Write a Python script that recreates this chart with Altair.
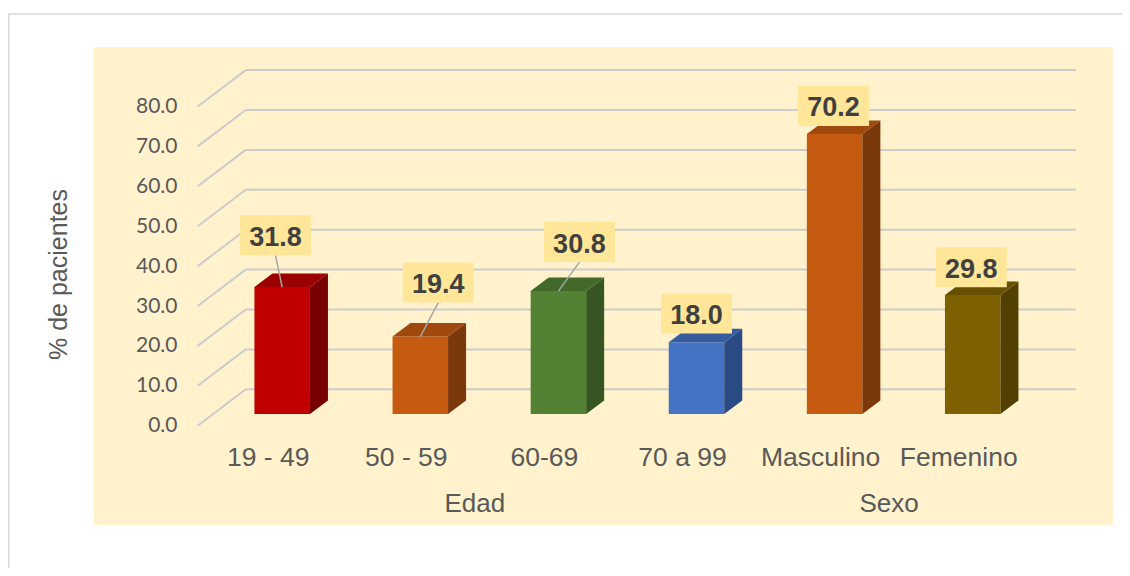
import json
import altair as alt
import pandas as pd

# ---------------- data ----------------
categories = ["19 - 49", "50 - 59", "60-69", "70 a 99", "Masculino", "Femenino"]
values = [31.8, 19.4, 30.8, 18.0, 70.2, 29.8]
groups = ["Edad", "Edad", "Edad", "Edad", "Sexo", "Sexo"]
y_ticks = [0, 10, 20, 30, 40, 50, 60, 70, 80]

# ---------------- styles ----------------
front_colors = ["#C00000", "#C55A11", "#548235", "#4472C4", "#C55A11", "#7F6000"]
top_colors = ["#9A0000", "#A0490E", "#43692A", "#365C9E", "#A0490E", "#665000"]
side_colors = ["#780000", "#7B380B", "#375623", "#2B4B84", "#7B380B", "#524000"]

# ---------------- layout (pixels) ----------------
W, H = 1019, 478
STEP = 138.1          # px between bar centres
X0 = 188.2            # plot x of first bar centre
Y0 = 367.0            # plot y of value 0 at the bar front plane
PX = 3.99             # px per percentage point
BAR_W = 55.5
DEPTH_X, DEPTH_Y = 18.0, 13.5
BACK_UP = 24.7        # back wall above bar front plane (px)
FLOOR_DOWN = 11.7     # floor front below bar front plane (px)
BACK_LEFT_X, FRONT_LEFT_X, GRID_RIGHT_X = 151.7, 103.7, 981.7
LABEL_SHIFT = -14.5
# data-label box placement relative to bar front top centre (px)
label_dx = [-6.7, 18.0, 21.0, 0.0, -1.0, -1.4]
label_dy = [51.8, 54.0, 49.0, 28.7, 28.0, 27.8]
leader = [True, True, True, False, False, False]
BOX_W, BOX_H = 71, 40
PAD = {"left": 86, "top": 39, "right": 9, "bottom": 43}

ux = lambda p: p / STEP
uy = lambda p: p / PX
xpos = lambda px: (px - X0) / STEP

xscale = alt.Scale(domain=[-X0 / STEP, (W - X0) / STEP], nice=False, zero=False)
yscale = alt.Scale(domain=[(Y0 - H) / PX, Y0 / PX], nice=False, zero=False)

hw = ux(BAR_W / 2)
dX, dY = ux(DEPTH_X), uy(DEPTH_Y)

bars = pd.DataFrame({
    "cat": categories,
    "v": values,
    "i": list(range(len(categories))),
    "color": front_colors,
})
bars["x0"] = bars["i"] - hw
bars["x1"] = bars["i"] + hw
bars["zero"] = 0.0

side_rows, top_rows = [], []
for i, (c, v) in enumerate(zip(categories, values)):
    side_rows += [
        {"cat": c, "x": i + hw, "lo": 0.0, "hi": v, "color": side_colors[i]},
        {"cat": c, "x": i + hw + dX, "lo": dY, "hi": v + dY, "color": side_colors[i]},
    ]
    top_rows += [
        {"cat": c, "x": i - hw, "lo": v, "hi": v, "color": top_colors[i]},
        {"cat": c, "x": i - hw + dX, "lo": v, "hi": v + dY, "color": top_colors[i]},
        {"cat": c, "x": i + hw, "lo": v, "hi": v + dY, "color": top_colors[i]},
        {"cat": c, "x": i + hw + dX, "lo": v + dY, "hi": v + dY, "color": top_colors[i]},
    ]
side_df = pd.DataFrame(side_rows)
top_df = pd.DataFrame(top_rows)

grid_rows = []
for t in y_ticks:
    grid_rows.append({"x": xpos(BACK_LEFT_X), "x2": xpos(GRID_RIGHT_X),
                      "y": t + uy(BACK_UP), "y2": t + uy(BACK_UP)})
    grid_rows.append({"x": xpos(FRONT_LEFT_X), "x2": xpos(BACK_LEFT_X),
                      "y": t - uy(FLOOR_DOWN), "y2": t + uy(BACK_UP)})
grid_df = pd.DataFrame(grid_rows)

lab_rows, lead_rows = [], []
for i, v in enumerate(values):
    lx = i + ux(label_dx[i])
    ly = v + uy(label_dy[i])
    lab_rows.append({"x": lx, "y": ly, "text": f"{v:.1f}"})
    if leader[i]:
        lead_rows.append({"x": lx, "y": ly - uy(BOX_H / 2), "x2": float(i), "y2": v})
lab_df = pd.DataFrame(lab_rows)
lead_df = pd.DataFrame(lead_rows)

grp_df = pd.DataFrame({"g": groups, "i": list(range(len(groups)))}).groupby("g", as_index=False)["i"].mean()

GRAY = "#595959"
label_expr = json.dumps(categories) + "[datum.value]"

xaxis = alt.Axis(
    values=list(range(len(categories))), labelExpr=label_expr, labelOffset=LABEL_SHIFT,
    offset=-60, domain=False, ticks=False, tickSize=0, labelPadding=0, grid=False,
    labelBaseline="alphabetic", labelFont="Liberation Sans", labelFontSize=26.5,
    labelColor=GRAY, labelFlush=False, labelOverlap=False, title=None)
yaxis = alt.Axis(
    values=y_ticks, format=".1f", labelOffset=FLOOR_DOWN, offset=-83,
    domain=False, ticks=False, tickSize=0, labelPadding=0, grid=False,
    labelFont="Lato", labelFontSize=21, labelColor=GRAY,
    title="% de pacientes", titleFont="Liberation Sans", titleFontSize=25,
    titleFontWeight="normal", titleColor=GRAY, titleAngle=270,
    titleX=-119, titleY=227, titleBaseline="middle", titleAlign="center")


def X(field):
    return alt.X(field, scale=xscale, axis=xaxis)


def Y(field):
    return alt.Y(field, scale=yscale, axis=yaxis)


# ---------------- layers ----------------
grid = alt.Chart(grid_df).mark_rule(color="#CCCCCC", strokeWidth=2).encode(
    x=X("x:Q"), x2="x2:Q", y=Y("y:Q"), y2="y2:Q",
)

front = alt.Chart(bars).mark_rect().encode(
    x=X("x0:Q"), x2="x1:Q", y=Y("zero:Q"), y2="v:Q",
    fill=alt.Fill("color:N", scale=None),
)

side = alt.Chart(side_df).mark_area(interpolate="linear").encode(
    x=X("x:Q"), y=Y("lo:Q"), y2="hi:Q",
    detail="cat:N",
    fill=alt.Fill("color:N", scale=None),
)

top = alt.Chart(top_df).mark_area(interpolate="linear").encode(
    x=X("x:Q"), y=Y("lo:Q"), y2="hi:Q",
    detail="cat:N",
    fill=alt.Fill("color:N", scale=None),
)

leaders = alt.Chart(lead_df).mark_rule(color="#A6A6A6", strokeWidth=1.5).encode(
    x=X("x:Q"), x2="x2:Q", y=Y("y:Q"), y2="y2:Q",
)

box_path = "M-1,-{r}L1,-{r}L1,{r}L-1,{r}Z".format(r=round(BOX_H / BOX_W, 4))
boxes = alt.Chart(lab_df).mark_point(
    shape=box_path, filled=True, fill="#FFE699", opacity=1, strokeWidth=0, size=BOX_W ** 2
).encode(x=X("x:Q"), y=Y("y:Q"))

labels = alt.Chart(lab_df).mark_text(
    font="Liberation Sans", fontSize=27, fontWeight="bold", color="#404040",
    baseline="alphabetic", dy=10.5, align="center"
).encode(x=X("x:Q"), y=Y("y:Q"), text="text:N")

group_labels = alt.Chart(grp_df).mark_text(
    font="Liberation Sans", fontSize=26, color=GRAY, baseline="alphabetic",
    align="center", dx=LABEL_SHIFT
).encode(x=X("i:Q"), y=alt.value(465), text="g:N")

one = alt.Data(values=[{"a": 1}])
TOTAL_W = PAD["left"] + W + PAD["right"]
TOTAL_H = PAD["top"] + H + PAD["bottom"]
border_top = alt.Chart(one).mark_rule(color="#D9D9D9", strokeWidth=1.5).encode(
    x=alt.value(-PAD["left"]), x2=alt.value(TOTAL_W - PAD["left"]), y=alt.value(-33)
)
border_left = alt.Chart(one).mark_rule(color="#D9D9D9", strokeWidth=1.5).encode(
    x=alt.value(-PAD["left"] + 0.75), y=alt.value(-33), y2=alt.value(TOTAL_H - PAD["top"])
)

chart = alt.layer(
    border_top, border_left, grid, front, side, top, leaders, boxes, labels, group_labels
).properties(
    width=W, height=H,
    autosize=alt.AutoSizeParams(type="none"),
    padding=PAD,
    background="#FFFFFF",
).configure_view(fill="#FFF2CC", stroke=None)

chart.save("out.html", embed_options={"renderer": "svg", "actions": False})
